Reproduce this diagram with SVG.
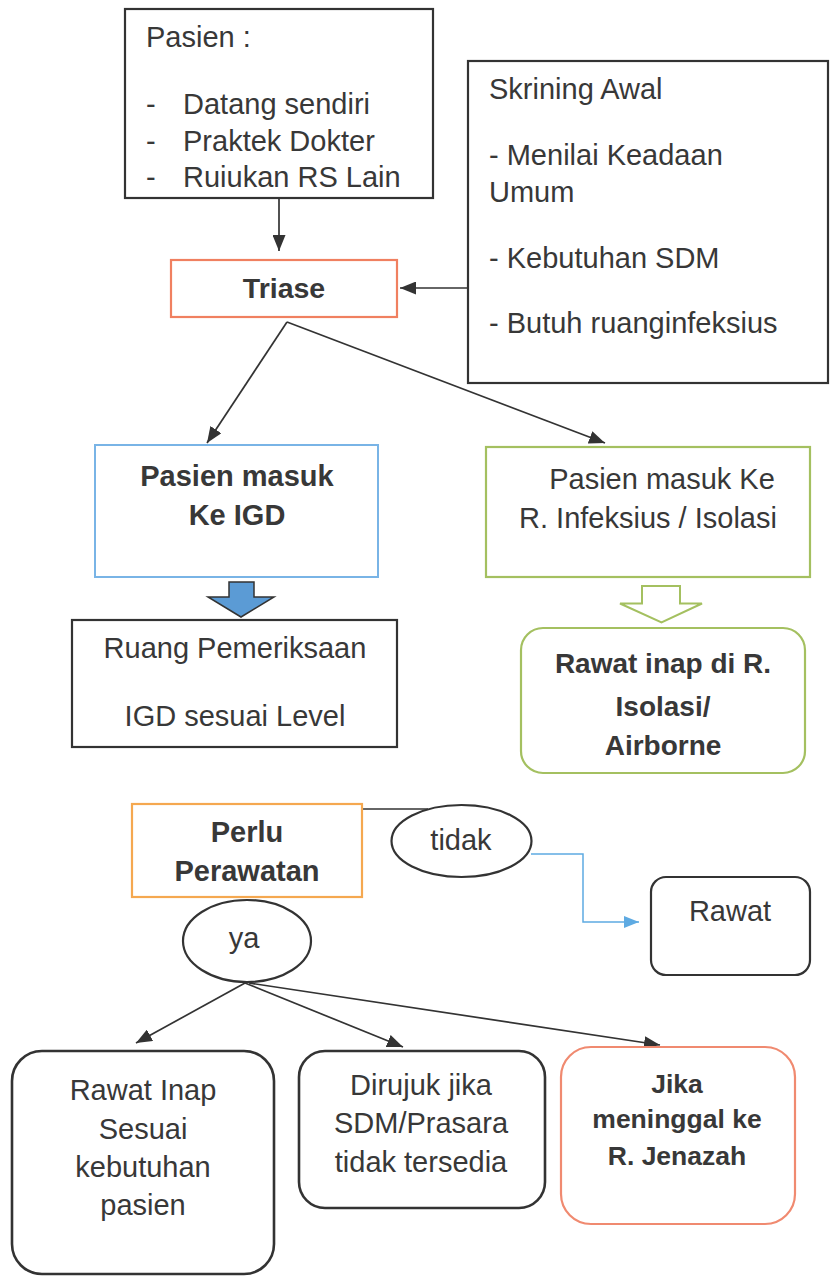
<svg xmlns="http://www.w3.org/2000/svg" width="831" height="1277" viewBox="0 0 831 1277">
  <defs>
    <style>
      text { font-family: "Liberation Sans", Arial, sans-serif; font-size: 29px; fill: #383838; }
      .b { font-weight: bold; }
      .c { text-anchor: middle; }
      .box { fill: #ffffff; stroke: #333333; stroke-width: 2.2; }
      .conn { fill: none; stroke: #333333; stroke-width: 1.7; }
    </style>
    <marker id="arr" viewBox="0 0 16 13" refX="16" refY="6.5" markerWidth="16" markerHeight="13" markerUnits="userSpaceOnUse" orient="auto">
      <path d="M0,0 L16,6.5 L0,13 z" fill="#333333"/>
    </marker>
    <marker id="arrBlue" viewBox="0 0 15 12" refX="15" refY="6" markerWidth="15" markerHeight="12" markerUnits="userSpaceOnUse" orient="auto">
      <path d="M0,0 L15,6 L0,12 z" fill="#5eaae2"/>
    </marker>
  </defs>
  <rect width="831" height="1277" fill="#ffffff"/>

  <!-- connectors -->
  <g id="connectors">
    <path class="conn" d="M279,198 L279,251" marker-end="url(#arr)"/>
    <path class="conn" d="M468,288 L400,288" marker-end="url(#arr)"/>
    <path class="conn" d="M287,322 L207,443" marker-end="url(#arr)"/>
    <path class="conn" d="M287,322 L605,443" marker-end="url(#arr)"/>
    <path class="conn" d="M362,809 L428,809"/>
    <path d="M531,854 L583,854 L583,922 L639,922" fill="none" stroke="#5eaae2" stroke-width="1.5" marker-end="url(#arrBlue)"/>
    <path class="conn" d="M245,983 L136,1043" marker-end="url(#arr)"/>
    <path class="conn" d="M245,983 L403,1047" marker-end="url(#arr)"/>
    <path class="conn" d="M249,983 L660,1045" marker-end="url(#arr)"/>
    <!-- block arrows -->
    <polygon points="229,582 254,582 254,597 274,597 241,617 208,597 229,597" fill="#5b9bd5" stroke="#333333" stroke-width="1.5"/>
    <polygon points="642,586 680,586 680,603.5 702,603.5 661.5,622.5 620,603.5 642,603.5" fill="#ffffff" stroke="#a4c060" stroke-width="2"/>
  </g>

  <g id="pasien">
    <rect class="box" x="125" y="9" width="308" height="189"/>
    <text x="146" y="47">Pasien :</text>
    <text x="146" y="114">-</text>
    <text x="183" y="114">Datang sendiri</text>
    <text x="146" y="151">-</text>
    <text x="183" y="151">Praktek Dokter</text>
    <text x="146" y="187">-</text>
    <text x="183" y="187">Ruiukan RS Lain</text>
  </g>

  <g id="skrining">
    <rect class="box" x="468" y="61" width="360" height="322"/>
    <text x="489" y="99">Skrining Awal</text>
    <text x="489" y="165">- Menilai Keadaan</text>
    <text x="489" y="202">Umum</text>
    <text x="489" y="268">- Kebutuhan SDM</text>
    <text x="489" y="333">- Butuh ruanginfeksius</text>
  </g>

  <g id="triase">
    <rect x="171" y="260" width="226" height="57" fill="#ffffff" stroke="#f08060" stroke-width="2.2"/>
    <text class="b c" x="284" y="298" style="font-size:28.5px">Triase</text>
  </g>

  <g id="igd">
    <rect x="95" y="445" width="283" height="132" fill="#ffffff" stroke="#79b4e6" stroke-width="2"/>
    <text class="b c" x="237" y="486">Pasien masuk</text>
    <text class="b c" x="237" y="525">Ke IGD</text>
  </g>

  <g id="infeksius">
    <rect x="486" y="447" width="324" height="130" fill="#ffffff" stroke="#a4c060" stroke-width="2.2"/>
    <text class="c" x="662" y="489">Pasien masuk Ke</text>
    <text class="c" x="648" y="528">R. Infeksius / Isolasi</text>
  </g>

  <g id="pemeriksaan">
    <rect class="box" x="72" y="620" width="325" height="127"/>
    <text class="c" x="235" y="658">Ruang Pemeriksaan</text>
    <text class="c" x="235" y="726">IGD sesuai Level</text>
  </g>

  <g id="isolasi">
    <rect x="521" y="628" width="284" height="145" rx="22" fill="#ffffff" stroke="#a4c060" stroke-width="2.2"/>
    <text class="b c" x="663" y="673" style="font-size:28px">Rawat inap di R.</text>
    <text class="b c" x="663" y="716" style="font-size:28px">Isolasi/</text>
    <text class="b c" x="663" y="755" style="font-size:28px">Airborne</text>
  </g>

  <g id="perlu">
    <rect x="132" y="804" width="230" height="93" fill="#ffffff" stroke="#f5a850" stroke-width="2.2"/>
    <text class="b c" x="247" y="842">Perlu</text>
    <text class="b c" x="247" y="881">Perawatan</text>
  </g>

  <g id="tidak">
    <ellipse cx="461.5" cy="841" rx="70" ry="36" fill="#ffffff" stroke="#333333" stroke-width="2.2"/>
    <text class="c" x="461" y="850">tidak</text>
  </g>

  <g id="rawat">
    <rect class="box" x="651" y="877" width="159" height="98" rx="15"/>
    <text class="c" x="730" y="921">Rawat</text>
  </g>

  <g id="ya">
    <ellipse cx="247" cy="941" rx="64" ry="41" fill="#ffffff" stroke="#333333" stroke-width="2.2"/>
    <text class="c" x="244" y="948">ya</text>
  </g>

  <g id="rawat-inap">
    <rect class="box" x="12" y="1051" width="262" height="223" rx="30" style="stroke-width:2.6"/>
    <text class="c" x="143" y="1100">Rawat Inap</text>
    <text class="c" x="143" y="1139">Sesuai</text>
    <text class="c" x="143" y="1177">kebutuhan</text>
    <text class="c" x="143" y="1215">pasien</text>
  </g>

  <g id="dirujuk">
    <rect class="box" x="299" y="1051" width="246" height="157" rx="26" style="stroke-width:2.6"/>
    <text class="c" x="421" y="1095">Dirujuk jika</text>
    <text class="c" x="421" y="1133">SDM/Prasara</text>
    <text class="c" x="421" y="1172">tidak tersedia</text>
  </g>

  <g id="jenazah">
    <rect x="561" y="1047" width="234" height="177" rx="30" fill="#ffffff" stroke="#f08a70" stroke-width="2.2"/>
    <text class="b c" x="677" y="1093" style="font-size:26.5px">Jika</text>
    <text class="b c" x="677" y="1128" style="font-size:26.5px">meninggal ke</text>
    <text class="b c" x="677" y="1165" style="font-size:26.5px">R. Jenazah</text>
  </g>
</svg>
